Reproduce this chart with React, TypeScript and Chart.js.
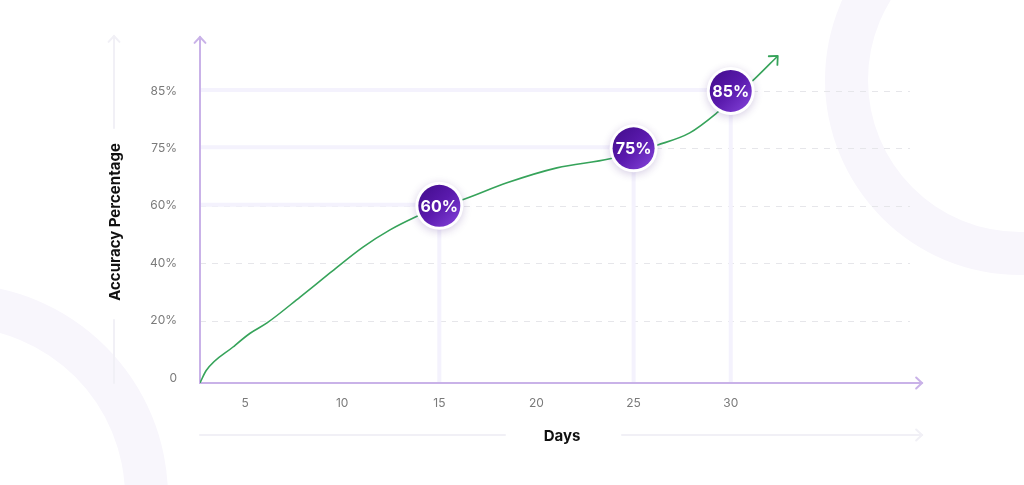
import React, { useEffect, useRef } from "react";
import { Chart, registerables } from "chart.js";

Chart.register(...registerables);

// ---- data ----
const days = [2.68, 3.0, 4.38, 5.26, 6.13, 7.83, 9.37, 11.07, 12.46, 13.74, 14.9, 16.16, 18.48, 21.05, 23.78, 26.24, 27.89, 29.33, 31.23, 32.42];
const accuracy = [-1.7, 2.6, 10.8, 15.6, 19.2, 28.2, 36.6, 45.6, 51.6, 56.0, 59.4, 61.5, 66.0, 69.9, 72.3, 75.6, 77.7, 81.3, 87.1, 91.1];

const xTickValues = [5, 10, 15, 20, 25, 30];
const xTickLabels = ["5", "10", "15", "20", "25", "30"];
const yTickValues = [0, 20, 40, 60, 75, 85];
const yTickLabels = ["0", "20%", "40%", "60%", "75%", "85%"];

const milestoneDays = [15, 25, 30];
const milestoneAccuracy = [60, 75, 85];
const milestoneLabels = ["60%", "75%", "85%"];

const xAxisTitle = "Days";
const yAxisTitle = "Accuracy Percentage";

const X_MIN = 2.68;
const X_MAX = 40;
const LEVEL_MIN = -0.087;
const LEVEL_MAX = 5.94;

// the y axis spaces its tick values evenly: map a percentage to its tick level
function toLevel(p: number): number {
  const v = yTickValues;
  const n = v.length;
  let i = 0;
  if (p <= v[0]) i = 0;
  else if (p >= v[n - 1]) i = n - 2;
  else {
    while (i < n - 2 && p > v[i + 1]) i++;
  }
  return i + (p - v[i]) / (v[i + 1] - v[i]);
}

const FONT = "Inter, 'Noto Sans', sans-serif";

function arrowHead(ctx: CanvasRenderingContext2D, x: number, y: number, angle: number, size: number) {
  ctx.beginPath();
  ctx.moveTo(x + Math.cos(angle + Math.PI - 0.75) * size, y + Math.sin(angle + Math.PI - 0.75) * size);
  ctx.lineTo(x, y);
  ctx.lineTo(x + Math.cos(angle + Math.PI + 0.75) * size, y + Math.sin(angle + Math.PI + 0.75) * size);
  ctx.stroke();
}

const decorPlugin = {
  id: "decor",
  beforeDraw(chart: any) {
    const ctx: CanvasRenderingContext2D = chart.ctx;
    const { width, height } = chart;
    ctx.save();
    ctx.fillStyle = "#ffffff";
    ctx.fillRect(0, 0, width, height);
    // background rings
    ctx.fillStyle = "#f8f6fc";
    ctx.beginPath();
    ctx.arc(1020, 80, 195, 0, Math.PI * 2);
    ctx.arc(1020, 80, 152, 0, Math.PI * 2, true);
    ctx.fill("evenodd");
    ctx.beginPath();
    ctx.arc(-45, 497, 213, 0, Math.PI * 2);
    ctx.arc(-45, 497, 170, 0, Math.PI * 2, true);
    ctx.fill("evenodd");

    const area = chart.chartArea;
    // faint decorative arrows
    ctx.strokeStyle = "#f1f0f6";
    ctx.lineWidth = 2;
    ctx.lineCap = "round";
    const ax = 114;
    ctx.beginPath();
    ctx.moveTo(ax, 128);
    ctx.lineTo(ax, 36);
    ctx.moveTo(ax, 320);
    ctx.lineTo(ax, area.bottom);
    ctx.stroke();
    arrowHead(ctx, ax, 36, -Math.PI / 2, 8);
    const ay = 435;
    ctx.beginPath();
    ctx.moveTo(area.left, ay);
    ctx.lineTo(505, ay);
    ctx.moveTo(622, ay);
    ctx.lineTo(area.right - 3, ay);
    ctx.stroke();
    arrowHead(ctx, area.right - 3, ay, 0, 8);

    // titles
    ctx.fillStyle = "#111111";
    ctx.font = `bold 15px ${FONT}`;
    ctx.textAlign = "center";
    ctx.textBaseline = "middle";
    ctx.fillText(xAxisTitle, 562, ay + 1);
    ctx.save();
    ctx.translate(ax + 1, 222);
    ctx.rotate(-Math.PI / 2);
    ctx.fillText(yAxisTitle, 0, 0);
    ctx.restore();
    ctx.restore();
  },
  beforeDatasetsDraw(chart: any) {
    const ctx: CanvasRenderingContext2D = chart.ctx;
    const area = chart.chartArea;
    const xs = chart.scales.x;
    const ys = chart.scales.y;
    ctx.save();
    // dashed grid lines
    ctx.strokeStyle = "#e6e6ea";
    ctx.lineWidth = 1;
    ctx.setLineDash([6, 6]);
    yTickValues.forEach((v, i) => {
      if (i === 0) return;
      const y = Math.round(ys.getPixelForValue(toLevel(v))) + 0.5;
      ctx.beginPath();
      ctx.moveTo(area.left, y);
      ctx.lineTo(area.right - 15, y);
      ctx.stroke();
    });
    ctx.setLineDash([]);
    // milestone guide lines
    ctx.strokeStyle = "#f4f2fd";
    ctx.lineWidth = 4;
    milestoneDays.forEach((d, i) => {
      const x = xs.getPixelForValue(d);
      const y = ys.getPixelForValue(toLevel(milestoneAccuracy[i]));
      ctx.beginPath();
      ctx.moveTo(area.left, y - 1);
      ctx.lineTo(x, y - 1);
      ctx.moveTo(x, y);
      ctx.lineTo(x, area.bottom);
      ctx.stroke();
    });
    // axes
    ctx.strokeStyle = "#c9b2e8";
    ctx.lineWidth = 2;
    ctx.lineCap = "round";
    ctx.beginPath();
    ctx.moveTo(area.left, area.top);
    ctx.lineTo(area.left, area.bottom);
    ctx.lineTo(area.right - 3, area.bottom);
    ctx.stroke();
    arrowHead(ctx, area.left, area.top, -Math.PI / 2, 8);
    arrowHead(ctx, area.right - 3, area.bottom, 0, 8);
    // tick labels
    ctx.fillStyle = "#7a7a7a";
    ctx.font = `12px ${FONT}`;
    ctx.textBaseline = "middle";
    ctx.textAlign = "right";
    yTickValues.forEach((v, i) => {
      ctx.fillText(yTickLabels[i], 177, ys.getPixelForValue(toLevel(v)));
    });
    ctx.textAlign = "center";
    xTickValues.forEach((v, i) => {
      ctx.fillText(xTickLabels[i], xs.getPixelForValue(v), 403);
    });
    ctx.restore();
  },
  afterDatasetsDraw(chart: any) {
    const ctx: CanvasRenderingContext2D = chart.ctx;
    const lineMeta = chart.getDatasetMeta(0);
    const pts = lineMeta.data;
    ctx.save();
    // arrow head at the end of the line
    if (pts.length > 1) {
      const a = pts[pts.length - 1];
      const b = pts[pts.length - 2];
      const ang = Math.atan2(a.y - b.y, a.x - b.x);
      ctx.strokeStyle = "#36a35a";
      ctx.lineWidth = 1.8;
      ctx.lineCap = "round";
      ctx.lineJoin = "round";
      arrowHead(ctx, a.x, a.y, ang, 9);
    }
    // milestone badges
    const mMeta = chart.getDatasetMeta(1);
    mMeta.data.forEach((p: any, i: number) => {
      const x = p.x;
      const y = p.y;
      ctx.save();
      ctx.shadowColor = "rgba(70, 30, 130, 0.22)";
      ctx.shadowBlur = 8;
      ctx.shadowOffsetY = 2;
      ctx.fillStyle = "#ffffff";
      ctx.beginPath();
      ctx.arc(x, y, 24, 0, Math.PI * 2);
      ctx.fill();
      ctx.restore();
      const g = ctx.createLinearGradient(x - 20, y - 20, x + 20, y + 20);
      g.addColorStop(0, "#420c8c");
      g.addColorStop(0.5, "#5a1aad");
      g.addColorStop(1, "#8443da");
      ctx.fillStyle = g;
      ctx.beginPath();
      ctx.arc(x, y, 21, 0, Math.PI * 2);
      ctx.fill();
      ctx.fillStyle = "#ffffff";
      ctx.font = `bold 16px ${FONT}`;
      ctx.textAlign = "center";
      ctx.textBaseline = "middle";
      ctx.fillText(milestoneLabels[i], x, y + 1);
    });
    ctx.restore();
  },
};

export default function App() {
  const canvasRef = useRef<HTMLCanvasElement | null>(null);

  useEffect(() => {
    if (!canvasRef.current) return;
    const chart = new Chart(canvasRef.current, {
      type: "line",
      data: {
        datasets: [
          {
            label: "Accuracy",
            data: days.map((d, i) => ({ x: d, y: toLevel(accuracy[i]) })),
            borderColor: "#36a35a",
            borderWidth: 1.6,
            pointRadius: 0,
            fill: false,
            cubicInterpolationMode: "monotone",
          },
          {
            label: "Milestones",
            data: milestoneDays.map((d, i) => ({ x: d, y: toLevel(milestoneAccuracy[i]) })),
            showLine: false,
            pointRadius: 0,
            borderWidth: 0,
          },
        ],
      },
      options: {
        responsive: false,
        animation: false,
        devicePixelRatio: 1,
        layout: { padding: { left: 200, right: 99, top: 37, bottom: 102 } },
        plugins: { legend: { display: false }, tooltip: { enabled: false } },
        events: [],
        scales: {
          x: { type: "linear", min: X_MIN, max: X_MAX, display: false },
          y: { type: "linear", min: LEVEL_MIN, max: LEVEL_MAX, display: false },
        },
      },
      plugins: [decorPlugin],
    } as any);
    return () => chart.destroy();
  }, []);

  return (
    <div style={{ position: "absolute", left: 0, top: 0, width: 1024, height: 485, background: "#fff" }}>
      <canvas ref={canvasRef} width={1024} height={485} style={{ display: "block" }} />
    </div>
  );
}
